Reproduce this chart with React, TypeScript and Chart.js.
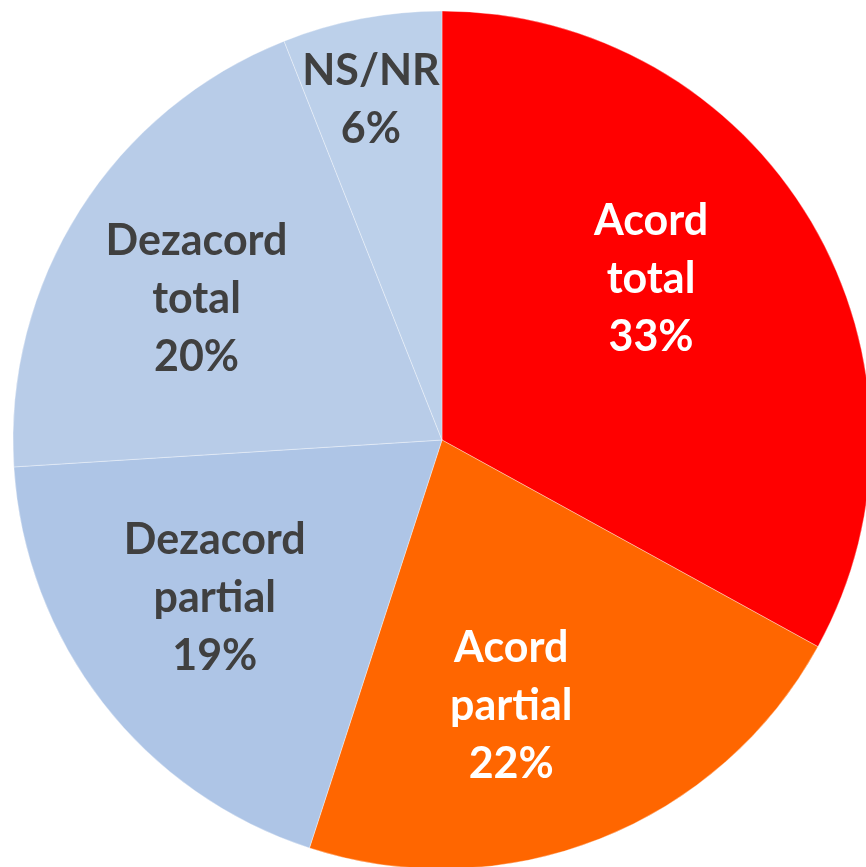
import React, { useEffect, useRef } from "react";
import { Chart, registerables } from "chart.js";

Chart.register(...registerables);

const categoryLines: string[][] = [
  ["Acord", "total"],
  ["Acord", "partial"],
  ["Dezacord", "partial"],
  ["Dezacord", "total"],
  ["NS/NR"],
];
const values: number[] = [33, 22, 19, 20, 6];
const sliceColors: string[] = ["#FF0000", "#FF6600", "#AEC5E6", "#B8CCE8", "#BCD0EA"];
const labelColors: string[] = ["#FFFFFF", "#FFFFFF", "#404040", "#404040", "#404040"];
const labelRadius: number[] = [0.615, 0.64, 0.645, 0.66, 0.81];
const labelAngleShift: number[] = [-7, 7, 3, -2.5, -1];

const labelPlugin = {
  id: "sliceLabels",
  afterDatasetsDraw(chart: any) {
    const ctx = chart.ctx;
    const meta = chart.getDatasetMeta(0);
    const total = values.reduce((a, b) => a + b, 0);
    ctx.save();
    ctx.font = "bold 43px Lato";
    ctx.textAlign = "center";
    ctx.textBaseline = "middle";
    meta.data.forEach((arc: any, i: number) => {
      const mid = (arc.startAngle + arc.endAngle) / 2 + (labelAngleShift[i] * Math.PI) / 180;
      const r = arc.outerRadius * labelRadius[i];
      const cx = arc.x + Math.cos(mid) * r;
      const cy = arc.y + Math.sin(mid) * r;
      const lines = [...categoryLines[i], Math.round((values[i] / total) * 100) + "%"];
      const lh = 58;
      ctx.fillStyle = labelColors[i];
      lines.forEach((t, k) => {
        ctx.fillText(t, cx, cy + (k - (lines.length - 1) / 2) * lh);
      });
    });
    ctx.restore();
  },
};

export default function App() {
  const ref = useRef<HTMLCanvasElement | null>(null);
  useEffect(() => {
    if (!ref.current) return;
    const chart = new Chart(ref.current, {
      type: "pie",
      data: {
        labels: categoryLines.map((l) => l.join(" ")),
        datasets: [
          {
            data: values,
            backgroundColor: sliceColors,
            borderColor: "rgba(255,255,255,0.35)",
            borderWidth: 1,
          },
        ],
      },
      options: {
        animation: false,
        responsive: false,
        radius: 429,
        layout: { padding: 11 },
        plugins: { legend: { display: false }, tooltip: { enabled: false } },
      },
      plugins: [labelPlugin],
    });
    return () => chart.destroy();
  }, []);
  return (
    <div style={{ position: "absolute", left: 0, top: 0, width: 866, height: 867, overflow: "hidden", background: "#fff" }}>
      <canvas ref={ref} width={884} height={880} style={{ display: "block", width: 884, height: 880 }} />
    </div>
  );
}
